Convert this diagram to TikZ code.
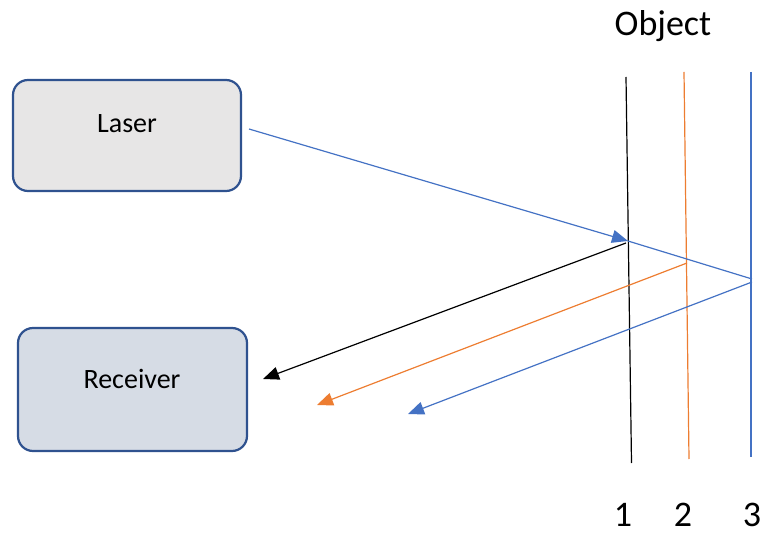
\documentclass[tikz,border=0pt]{standalone}
\usepackage{fontspec}
\setmainfont{Carlito}
\usetikzlibrary{arrows.meta}
\definecolor{cblue}{HTML}{4472C4}
\definecolor{corange}{HTML}{ED7D31}
\definecolor{cborder}{HTML}{2F528F}
\definecolor{lfill}{HTML}{E7E6E6}
\definecolor{rfill}{HTML}{D6DCE5}
\begin{document}
\begin{tikzpicture}[x=1pt,y=-1pt,
  box/.style={draw=cborder,line width=2.2pt,rounded corners=15pt,inner sep=0pt},
  ray/.style={line width=1.2pt},
  tip/.style={-{Triangle[length=16pt,width=13pt]}},
  lbl/.style={font=\fontsize{28}{32}\selectfont},
  big/.style={font=\fontsize{36}{40}\selectfont,inner sep=0pt,anchor=base}]
\useasboundingbox (0,0) rectangle (762,534);
% boxes
\node[box,fill=lfill,minimum width=228pt,minimum height=111pt] (laser) at (127,135.5) {};
\node[lbl] (lasertxt) at (127,124) {Laser};
\node[box,fill=rfill,minimum width=229pt,minimum height=123pt] (recv) at (132.5,389.5) {};
\node[lbl] (recvtxt) at (132,379) {Receiver};
% object layers
\coordinate (l1t) at (626,77);  \coordinate (l1b) at (631.5,463);
\coordinate (l2t) at (684,72);  \coordinate (l2b) at (689,459);
\coordinate (l3t) at (751,72);  \coordinate (l3b) at (751,457);
\draw[ray,black] (l1t) -- (l1b);
\draw[ray,corange] (l2t) -- (l2b);
\draw[ray,cblue] (l3t) -- (l3b);
\node[big] (obj) at (663,36) {Object};
\node[big] (n1) at (623,526) {1};
\node[big] (n2) at (683,526) {2};
\node[big] (n3) at (752,526) {3};
% rays
\coordinate (src) at (249,129);
\coordinate (p1) at (628,241);
\coordinate (p2) at (687,263);
\coordinate (p3) at (752,279);
\coordinate (q1) at (626,243);
\coordinate (q3) at (752,282);
\coordinate (e1) at (263,379);
\coordinate (e2) at (317,405);
\coordinate (e3) at (408,414);
\draw[ray,cblue,tip] (src) -- (p1);
\draw[ray,cblue] (p1) -- (p3);
\draw[ray,black,tip] (q1) -- (e1);
\draw[ray,corange,tip] (p2) -- (e2);
\draw[ray,cblue,tip] (q3) -- (e3);
\end{tikzpicture}
\end{document}
